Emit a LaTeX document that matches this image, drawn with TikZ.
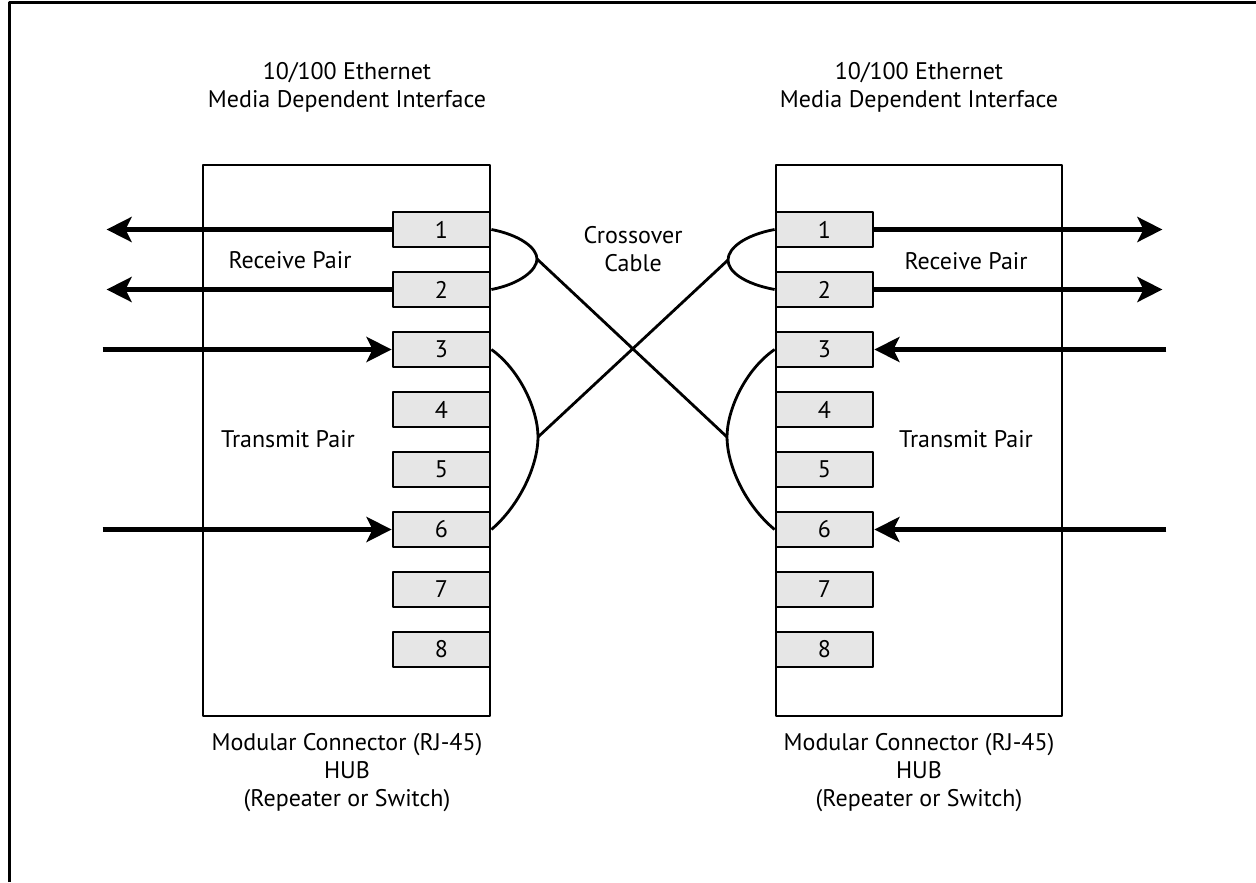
\documentclass[tikz,border=0pt]{standalone}
\usepackage{fontspec}
\setmainfont{PT Sans}
\usetikzlibrary{arrows.meta}
\definecolor{pingray}{RGB}{230,230,230}
\tikzset{
  pin/.style={draw, line width=1.4pt, fill=pingray, minimum width=48.5pt, minimum height=17.5pt, inner sep=0pt},
  hub/.style={draw, line width=1.4pt},
  sig/.style={line width=2.5pt, -{Stealth[length=12.5pt,width=12.5pt,inset=3pt]}},
  wire/.style={line width=1.4pt},
}
\begin{document}
\begin{tikzpicture}[x=0.5pt, y=-0.5pt, font=\fontsize{12}{14}\selectfont, line join=round]
	\useasboundingbox (0,0) rectangle (1256,882);
	\draw[line width=1.5pt] (9,882) -- (9,3) -- (1256,3);
	% hubs
	\draw[hub] (203,165) rectangle (490,716);
	\draw[hub] (776,165) rectangle (1062,716);
	\foreach \i in {1,...,8} {
		\node[pin] (L\i) at (441.5,{229.5+60*(\i-1)}) {\i};
		\node[pin] (R\i) at (824.5,{229.5+60*(\i-1)}) {\i};}
	% signals
	\foreach \i in {1,2} {
		\path (L\i.west) ++(-285,0) coordinate (lo\i);
		\path (R\i.east) ++(288,0) coordinate (ro\i);
		\draw[sig] (L\i.west) -- (lo\i);
		\draw[sig] (R\i.east) -- (ro\i);}
	\foreach \i in {3,6} {
		\path (L\i.west) ++(-289,0) coordinate (li\i);
		\path (R\i.east) ++(292,0) coordinate (ri\i);
		\draw[sig] (li\i) -- (L\i.west);
		\draw[sig] (ri\i) -- (R\i.east);}
	% cable
	\coordinate (rxl) at (537,259);
	\coordinate (txl) at (538,437);
	\coordinate (rxr) at (728,260);
	\coordinate (txr) at (727,437);
	\draw[wire] (L1.east) .. controls (520,235) and (537,248) .. (rxl) .. controls (537,270) and (520,284) .. (L2.east);
	\draw[wire] (L3.east) .. controls (520,370) and (538,410) .. (txl) .. controls (538,465) and (520,505) .. (L6.east);
	\draw[wire] (R1.west) .. controls (745,235) and (728,248) .. (rxr) .. controls (728,272) and (745,284) .. (R2.west);
	\draw[wire] (R3.west) .. controls (745,370) and (727,410) .. (txr) .. controls (727,465) and (745,505) .. (R6.west);
	\draw[wire] (rxl) -- (txr) (txl) -- (rxr);
	% labels
	\node[align=center] (topL) at (347,87) {10/100 Ethernet\\Media Dependent Interface};
	\node[align=center] (topR) at (919,87) {10/100 Ethernet\\Media Dependent Interface};
	\node[align=center] (botL) at (347,773) {Modular Connector (RJ-45)\\HUB\\(Repeater or Switch)};
	\node[align=center] (botR) at (919,773) {Modular Connector (RJ-45)\\HUB\\(Repeater or Switch)};
	\node (rxL) at (290,260) {Receive Pair};
	\node (txL) at (288,439) {Transmit Pair};
	\node (rxR) at (966,261) {Receive Pair};
	\node (txR) at (966,439) {Transmit Pair};
	\node[align=center] (xover) at (633,249) {Crossover\\Cable};
\end{tikzpicture}
\end{document}
